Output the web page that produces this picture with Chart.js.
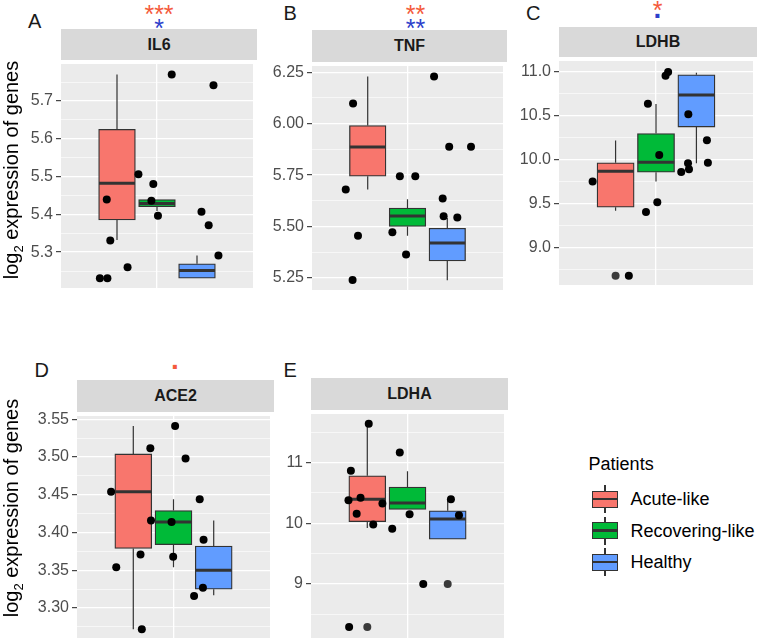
<!DOCTYPE html>
<html>
<head>
<meta charset="utf-8">
<script src="https://cdn.jsdelivr.net/npm/chart.js@4.4.1/dist/chart.umd.min.js"></script>
<style>
    body { margin: 0; background: #fff; }
    #fig { position: relative; width: 758px; height: 644px; overflow: hidden; font-family: 'Liberation Sans', Arial, sans-serif; }
    #fig canvas { position: absolute; }
    .strip { position: absolute; background: #D9D9D9; color: #1A1A1A; font-weight: bold; font-size: 16px;
             display: flex; align-items: center; justify-content: center; }
    .tag { position: absolute; font-size: 20px; line-height: 1; color: #1a1a1a; }
    .sig { position: absolute; font-size: 25px; line-height: 1; white-space: nowrap; transform: translateX(-50%); }
    .dot { font-size: 28px; font-weight: bold; }
    .ytitle { position: absolute; width: 300px; height: 24px; line-height: 24px; font-size: 20px; color: #000;
              text-align: center; white-space: nowrap; transform: rotate(-90deg); }
    .ytitle sub { font-size: 13px; }
    .leg { position: absolute; font-size: 18px; line-height: 1; color: #000; white-space: nowrap; }
    .key { position: absolute; width: 26px; height: 17px; box-sizing: border-box; border: 1.3px solid #333; }
    .key::after { content: ''; position: absolute; left: 0; right: 0; top: 50%; height: 2.4px; margin-top: -1.2px; background: #333; }
    .whisk { position: absolute; width: 1.2px; background: #333; }
</style>
</head>
<body>
<div id="fig"></div>
<script>
// groups (fill legend)
const groups = ['Acute-like', 'Recovering-like', 'Healthy'];

// box stats per group: [lower whisker, Q1, median, Q3, upper whisker]
const il6Box  = [[5.332, 5.385, 5.482, 5.625, 5.770], [5.409, 5.420, 5.429, 5.439, 5.439], [5.231, 5.231, 5.251, 5.269, 5.291]];
const tnfBox  = [[5.680, 5.745, 5.886, 5.991, 6.229], [5.456, 5.501, 5.552, 5.590, 5.633], [5.239, 5.333, 5.420, 5.492, 5.542]];
const ldhbBox = [[9.416, 9.457, 9.868, 9.964, 10.217], [9.750, 9.857, 9.970, 10.297, 10.633], [9.959, 10.371, 10.736, 10.967, 10.989]];
const ace2Box = [[3.272, 3.379, 3.454, 3.504, 3.541], [3.354, 3.384, 3.414, 3.429, 3.444], [3.317, 3.325, 3.350, 3.382, 3.416]];
const ldhaBox = [[9.92, 10.027, 10.396, 10.782, 11.64], [10.226, 10.226, 10.332, 10.596, 10.857], [9.737, 9.737, 10.071, 10.205, 10.396]];

// jittered samples: [x, log2 expression]
const il6Points  = [[0.686, 5.439], [0.708, 5.331], [0.643, 5.231], [0.690, 5.231], [0.816, 5.260], [0.884, 5.506], [0.977, 5.480],
                    [0.965, 5.436], [1.006, 5.396], [1.092, 5.770], [1.353, 5.742], [1.278, 5.407], [1.323, 5.371], [1.384, 5.291]];
const tnfPoints  = [[0.658, 6.098], [0.612, 5.680], [0.689, 5.456], [0.655, 5.241], [0.952, 5.745], [1.049, 5.745], [0.905, 5.473],
                    [0.991, 5.364], [1.167, 6.229], [1.262, 5.888], [1.399, 5.888], [1.221, 5.636], [1.227, 5.550], [1.313, 5.544]];
const ldhbPoints = [[0.608, 9.750], [0.832, 8.677], [0.950, 10.637], [1.020, 10.052], [0.938, 9.404], [1.008, 9.514], [1.059, 10.956],
                    [1.075, 11.000], [1.200, 10.518], [1.156, 9.860], [1.204, 9.890], [1.198, 9.959], [1.315, 10.220], [1.321, 9.964]];
const ace2Points = [[0.612, 3.454], [0.644, 3.354], [0.795, 3.371], [0.856, 3.5115], [0.860, 3.416], [0.803, 3.272], [1.010, 3.541],
                    [1.075, 3.498], [0.988, 3.414], [0.998, 3.368], [1.163, 3.444], [1.187, 3.3905], [1.183, 3.327], [1.128, 3.316]];
const ldhaPoints = [[0.759, 11.64], [0.648, 10.866], [0.633, 10.38], [0.708, 10.42], [0.684, 10.157], [0.787, 9.98], [0.844, 10.326],
                    [0.637, 8.29], [0.952, 11.164], [1.013, 10.15], [0.905, 9.908], [1.098, 9.0], [1.270, 10.396], [1.320, 10.13]];

// boxplot outliers: [group index, value]
const ldhbOutliers = [[0, 8.677]];
const ldhaOutliers = [[0, 8.29], [2, 9.0]];

// y tick labels
const il6Ticks  = ['5.3', '5.4', '5.5', '5.6', '5.7'];
const tnfTicks  = ['5.25', '5.50', '5.75', '6.00', '6.25'];
const ldhbTicks = ['9.0', '9.5', '10.0', '10.5', '11.0'];
const ace2Ticks = ['3.30', '3.35', '3.40', '3.45', '3.50', '3.55'];
const ldhaTicks = ['9', '10', '11'];

const FILLS = ['#F8766D', '#00BA38', '#619CFF'];
const RED = '#F45A3B', BLUE = '#2D3FCB';
const DODGE = [0.75, 1.0, 1.25];
const BOX_W = 0.225;
const AXIS_W = 44;

// plot = [left, top, right, bottom] of the grey panel
const panels = [
    { gene: 'IL6', box: il6Box, pts: il6Points, out: [], ticks: il6Ticks, y: [5.205, 5.798],
      plot: [61, 60, 257, 292], strip: 29, tag: ['A', 28, 21],
      sig: [['***', RED, 159, 9], ['*', BLUE, 159, 23]] },
    { gene: 'TNF', box: tnfBox, pts: tnfPoints, out: [], ticks: tnfTicks, y: [5.192, 6.280],
      plot: [312, 62, 507, 294], strip: 30, tag: ['B', 283.5, 12.7],
      sig: [['**', RED, 415.5, 8.8], ['**', BLUE, 415.5, 23]] },
    { gene: 'LDHB', box: ldhbBox, pts: ldhbPoints, out: ldhbOutliers, ticks: ldhbTicks, y: [8.571, 11.124],
      plot: [559, 57, 757, 289], strip: 27, tag: ['C', 526, 12.5],
      sig: [['*', RED, 657.5, 5], ['.', BLUE, 657.3, 16.5, true]] },
    { gene: 'ACE2', box: ace2Box, pts: ace2Points, out: [], ticks: ace2Ticks, y: [3.2604, 3.5542],
      plot: [77, 412, 274, 642], strip: 380, tag: ['D', 34.5, 370],
      sig: [['.', RED, 175, 367.7, true]] },
    { gene: 'LDHA', box: ldhaBox, pts: ldhaPoints, out: ldhaOutliers, ticks: ldhaTicks, y: [8.109, 11.800],
      plot: [311, 410, 508, 642], strip: 378, tag: ['E', 283.5, 370], sig: [] }
];

const fig = document.getElementById('fig');

function addDiv(cls, html, css) {
    const d = document.createElement('div');
    d.className = cls;
    d.innerHTML = html;
    Object.assign(d.style, css);
    fig.appendChild(d);
    return d;
}

// major ticks carry a label, minor ones sit half-way between
function buildTicks(labels, range) {
    const major = labels.map(Number);
    const half = (major[1] - major[0]) / 2;
    const ticks = major.map((v, i) => ({ value: v, lab: labels[i] }));
    [...major.map(v => v - half), major[major.length - 1] + half]
        .filter(v => v > range[0] && v < range[1])
        .forEach(v => ticks.push({ value: v, lab: '' }));
    return ticks.sort((a, b) => a.value - b.value);
}

const panelBg = {
    id: 'panelBg',
    beforeDraw(chart) {
        const a = chart.chartArea, c = chart.ctx;
        c.save();
        c.fillStyle = '#EBEBEB';
        c.fillRect(a.left, a.top, a.right - a.left, a.bottom - a.top);
        c.restore();
    }
};

function drawPanel(p) {
    const [l, t, r, b] = p.plot;

    addDiv('strip', p.gene, { left: l + 'px', top: p.strip + 'px', width: (r - l) + 'px', height: (t - p.strip) + 'px' });
    addDiv('tag', p.tag[0], { left: p.tag[1] + 'px', top: (p.tag[2] - 9.8) + 'px' });
    p.sig.forEach(([txt, col, x, y, isDot]) => {
        const off = isDot ? 21.7 : 6.8;
        addDiv('sig' + (isDot ? ' dot' : ''), txt, { color: col, left: x + 'px', top: (y - off) + 'px' });
    });

    const cv = document.createElement('canvas');
    cv.width = r - l + AXIS_W;
    cv.height = b - t;
    cv.style.left = (l - AXIS_W) + 'px';
    cv.style.top = t + 'px';
    fig.appendChild(cv);

    const whiskers = [], medians = [], boxes = [];
    p.box.forEach((s, g) => {
        const x = DODGE[g];
        whiskers.push({ x, y: s[0] }, { x, y: s[1] }, { x, y: null }, { x, y: s[3] }, { x, y: s[4] }, { x, y: null });
        medians.push({ x: x - BOX_W / 2, y: s[2] }, { x: x + BOX_W / 2, y: s[2] }, { x: x + BOX_W / 2, y: null });
        boxes.push({ x, y: [s[1], s[3]] });
    });
    const pxPerUnit = (r - l) / 1.2;
    const yTicks = buildTicks(p.ticks, p.y);

    new Chart(cv, {
        type: 'scatter',
        data: {
            datasets: [
                { type: 'scatter', data: p.pts.map(([x, y]) => ({ x, y })), pointRadius: 4,
                  pointBackgroundColor: '#000', pointBorderWidth: 0, clip: false, order: 0 },
                { type: 'scatter', data: p.out.map(([g, y]) => ({ x: DODGE[g], y })), pointRadius: 4,
                  pointBackgroundColor: '#3A3A3A', pointBorderWidth: 0, clip: false, order: 1 },
                { type: 'line', data: medians, borderColor: '#333', borderWidth: 3, pointRadius: 0,
                  spanGaps: false, borderCapStyle: 'butt', order: 2 },
                { type: 'bar', data: boxes, backgroundColor: FILLS, borderColor: '#333', borderWidth: 1.3,
                  borderSkipped: false, barThickness: BOX_W * pxPerUnit, order: 3 },
                { type: 'line', data: whiskers, borderColor: '#333', borderWidth: 1.2, pointRadius: 0,
                  spanGaps: false, order: 4 }
            ]
        },
        options: {
            responsive: false,
            maintainAspectRatio: false,
            animation: false,
            events: [],
            layout: { padding: 0 },
            plugins: { legend: { display: false }, tooltip: { enabled: false } },
            scales: {
                x: {
                    type: 'linear', min: 0.4, max: 1.6, offset: false,
                    ticks: { display: false },
                    border: { display: false },
                    grid: { color: '#FFFFFF', lineWidth: 1.3, drawTicks: false, offset: false },
                    afterBuildTicks: s => { s.ticks = [{ value: 1 }]; },
                    afterFit: s => { s.height = 0; s.paddingLeft = 0; s.paddingRight = 0; }
                },
                y: {
                    type: 'linear', min: p.y[0], max: p.y[1],
                    border: { display: false },
                    ticks: {
                        autoSkip: false, padding: 3, color: '#4D4D4D',
                        font: { family: 'Liberation Sans', size: 16 },
                        callback: (v, i, ts) => ts[i].lab
                    },
                    grid: {
                        color: '#FFFFFF',
                        lineWidth: c => (c.tick && c.tick.lab ? 1.3 : 0.6),
                        tickColor: c => (c.tick && c.tick.lab ? '#333333' : 'rgba(0,0,0,0)'),
                        tickLength: 5, tickWidth: 1.1
                    },
                    afterBuildTicks: s => { s.ticks = yTicks.map(tk => ({ ...tk })); },
                    afterFit: s => { s.width = AXIS_W; s.paddingTop = 0; s.paddingBottom = 0; }
                }
            }
        },
        plugins: [panelBg]
    });
}

panels.forEach(drawPanel);

// y axis titles (left column)
const yTitle = 'log<sub>2</sub> expression of genes';
[170, 507.5].forEach(cy => addDiv('ytitle', yTitle, { left: (10.5 - 150) + 'px', top: (cy - 12) + 'px' }));

// legend
addDiv('leg', 'Patients', { left: '588.6px', top: (464 - 8.8) + 'px' });
const legRows = [499, 530.5, 562.2];
groups.forEach((name, i) => {
    const cy = legRows[i];
    addDiv('whisk', '', { left: '604.4px', top: (cy - 14) + 'px', height: '28px' });
    addDiv('key', '', { left: '592px', top: (cy - 8.5) + 'px', background: FILLS[i] });
    addDiv('leg', name, { left: '630.5px', top: (cy - 8.8) + 'px' });
});
</script>
</body>
</html>
